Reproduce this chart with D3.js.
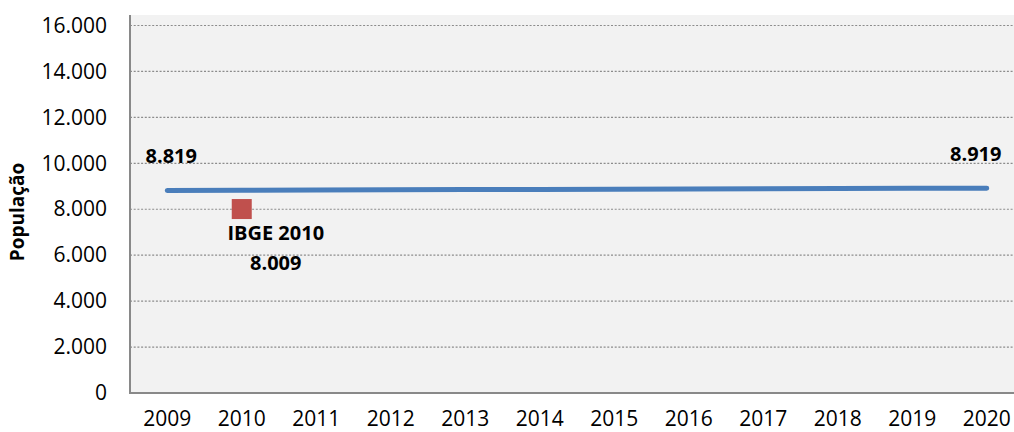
<!DOCTYPE html>
<html>
<head>
<meta charset="utf-8">
<script src="https://cdn.jsdelivr.net/npm/d3@7"></script>
<style>
  html, body { margin: 0; padding: 0; background: #fff; }
  svg { display: block; }
  text { font-family: "Open Sans", Lato, sans-serif; fill: #000; }
</style>
</head>
<body>
<svg id="chart" width="1014" height="432"></svg>
<script>
// Projected population by year
const years = ["2009","2010","2011","2012","2013","2014","2015","2016","2017","2018","2019","2020"];
const projection = [8819, 8828, 8837, 8846, 8855, 8864, 8873, 8882, 8891, 8900, 8910, 8919];

// Census count
const censusYears = ["2010"];
const censusValues = [8009];
const censusLabel = "IBGE 2010";

// Y axis ticks
const yTicks = [0, 2000, 4000, 6000, 8000, 10000, 12000, 14000, 16000];
const yTitle = "População";

const svg = d3.select("#chart");
const W = 1014, H = 432;
const plotLeft = 130, plotTop = 15, plotBottom = 393, plotRight = 1024;
const FONT = "'Open Sans', Lato, sans-serif";

const ptBR = d3.formatLocale({ decimal: ",", thousands: ".", grouping: [3], currency: ["R$", ""] });
const fmt = ptBR.format(",d");

const x = d3.scaleBand().domain(years).range([plotLeft, plotRight]);
const cx = d => x(d) + x.bandwidth() / 2;
const y = d3.scaleLinear().domain([0, 16000]).range([plotBottom, 25.5]);

// Plot area background
svg.append("rect")
  .attr("x", plotLeft).attr("y", plotTop)
  .attr("width", W - plotLeft).attr("height", plotBottom - plotTop)
  .attr("fill", "#f2f2f2");

// Dotted gridlines
svg.append("g")
  .selectAll("line")
  .data(yTicks.filter(d => d > 0))
  .join("line")
  .attr("x1", plotLeft).attr("x2", W)
  .attr("y1", d => y(d)).attr("y2", d => y(d))
  .attr("stroke", "#8c8c8c")
  .attr("stroke-width", 1.2)
  .attr("stroke-dasharray", "2,1.7");

// Y axis
const yAxis = svg.append("g")
  .attr("transform", `translate(${plotLeft},0)`)
  .call(d3.axisLeft(y).tickValues(yTicks).tickFormat(fmt).tickSize(0).tickPadding(23));
yAxis.select(".domain").remove();
yAxis.selectAll("text")
  .attr("font-size", 21)
  .attr("font-family", FONT)
  .attr("fill", "#000");

// X axis
const xAxis = svg.append("g")
  .attr("transform", `translate(0,${plotBottom})`)
  .call(d3.axisBottom(x).tickSize(0).tickPadding(0));
xAxis.select(".domain").remove();
xAxis.selectAll("text")
  .attr("y", 33).attr("dy", null)
  .attr("font-size", 21)
  .attr("font-family", FONT)
  .attr("fill", "#000");

// Axis lines
svg.append("line")
  .attr("x1", plotLeft).attr("x2", plotLeft)
  .attr("y1", plotTop).attr("y2", plotBottom)
  .attr("stroke", "#898989").attr("stroke-width", 2);
svg.append("line")
  .attr("x1", plotLeft - 1).attr("x2", W)
  .attr("y1", plotBottom).attr("y2", plotBottom)
  .attr("stroke", "#898989").attr("stroke-width", 2);

// Y axis title
svg.append("text")
  .attr("transform", `translate(24,212) rotate(-90)`)
  .attr("text-anchor", "middle")
  .attr("font-size", 19)
  .attr("font-weight", "bold")
  .text(yTitle);

// Projection line
const line = d3.line()
  .x((d, i) => cx(years[i]))
  .y(d => y(d));
svg.append("path")
  .datum(projection)
  .attr("d", line)
  .attr("fill", "none")
  .attr("stroke", "#4a7ebb")
  .attr("stroke-width", 5)
  .attr("stroke-linecap", "round");

// End labels on the projection
const first = 0, last = projection.length - 1;
svg.append("text")
  .attr("x", cx(years[first]) + 4)
  .attr("y", y(projection[first]) - 27)
  .attr("text-anchor", "middle")
  .attr("font-size", 20).attr("font-weight", "bold")
  .text(fmt(projection[first]));
svg.append("text")
  .attr("x", cx(years[last]) - 11)
  .attr("y", y(projection[last]) - 27)
  .attr("text-anchor", "middle")
  .attr("font-size", 20).attr("font-weight", "bold")
  .text(fmt(projection[last]));

// Census marker
const sq = 20;
svg.append("g")
  .selectAll("rect")
  .data(censusValues)
  .join("rect")
  .attr("x", (d, i) => cx(censusYears[i]) - sq / 2)
  .attr("y", d => y(d) - sq / 2)
  .attr("width", sq).attr("height", sq)
  .attr("fill", "#c0504d");

censusValues.forEach((v, i) => {
  const lx = cx(censusYears[i]) + 34;
  svg.append("text")
    .attr("x", lx).attr("y", y(v) + 31)
    .attr("text-anchor", "middle")
    .attr("font-size", 20).attr("font-weight", "bold")
    .text(censusLabel);
  svg.append("text")
    .attr("x", lx).attr("y", y(v) + 61)
    .attr("text-anchor", "middle")
    .attr("font-size", 20).attr("font-weight", "bold")
    .text(fmt(v));
});
</script>
</body>
</html>
